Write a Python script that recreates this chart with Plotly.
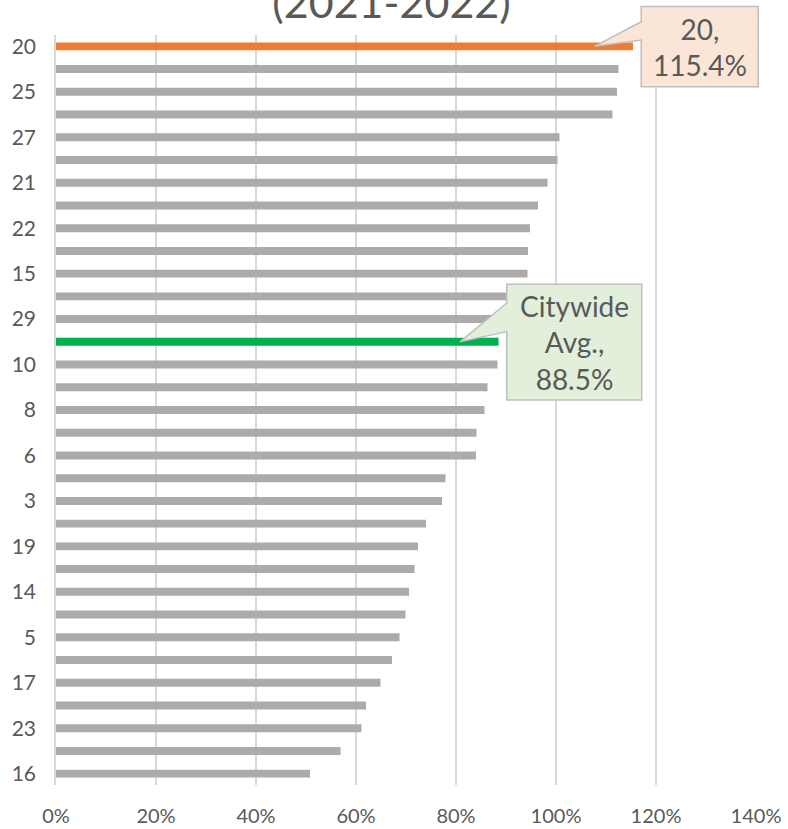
import plotly.graph_objects as go

# ---- data (top to bottom) ----
districts = ["20", "24", "25", "26", "27", "28", "21", "30", "22", "31", "15", "2",
             "29", "Citywide", "10", "11", "8", "13", "6", "1", "3", "18", "19", "32",
             "14", "9", "5", "4", "17", "12", "23", "7", "16"]
utilization = [115.4, 112.5, 112.2, 111.3, 100.7, 100.3, 98.3, 96.4, 94.8, 94.4, 94.3, 92.0,
               90.2, 88.5, 88.3, 86.3, 85.7, 84.1, 84.0, 77.9, 77.2, 74.0, 72.4, 71.7,
               70.6, 69.9, 68.7, 67.2, 64.9, 62.0, 61.1, 56.9, 50.8]
x_ticks = [0, 20, 40, 60, 80, 100, 120, 140]
x_tick_labels = [f"{t}%" for t in x_ticks]
highlight_top = "20"
highlight_avg = "Citywide"

GRAY = "#AEAAAA"
ORANGE = "#ED7D31"
GREEN = "#00B050"
TXT = "#595959"
FONT = "Lato"
W = 400

pos = list(range(len(districts)))
X_RANGE = [0, 140]
Y_RANGE = [len(districts) - 0.5, -0.5]   # reversed: first district on top

colors = []
for d in districts:
    if d == highlight_top:
        colors.append(ORANGE)
    elif d == highlight_avg:
        colors.append(GREEN)
    else:
        colors.append(GRAY)

fig = go.Figure(go.Bar(
    x=utilization, y=pos, orientation="h",
    marker=dict(color=colors, line=dict(width=0)),
    hoverinfo="x+y",
))

# convert data coords to paper coords (so callouts are not clipped by the plot area)
def px_(x):
    return (x - X_RANGE[0]) / (X_RANGE[1] - X_RANGE[0])

def py_(y):
    return (Y_RANGE[0] - y) / (Y_RANGE[0] - Y_RANGE[1])

def callout(idx, v, w, top, bot, wb1, wb2, fill, text):
    x0 = v + 1.65
    x1 = x0 + w
    y0 = idx + top
    y1 = idx + bot
    tipx = v - 7.7
    pts = [(x0, y0), (x1, y0), (x1, y1), (x0, y1), (x0, idx + wb2), (tipx, idx), (x0, idx + wb1)]
    path = "M " + " L ".join(f"{px_(a):.5f},{py_(b):.5f}" for a, b in pts) + " Z"
    fig.add_shape(type="path", path=path, xref="paper", yref="paper",
                  fillcolor=fill, line=dict(color="#BFBFBF", width=1.5), layer="above")
    fig.add_annotation(x=px_((x0 + x1) / 2), y=py_((y0 + y1) / 2), xref="paper", yref="paper",
                       xanchor="center", yanchor="middle",
                       text=text, showarrow=False, align="center",
                       font=dict(family=FONT, size=28, color=TXT, weight=W))

i_top = districts.index(highlight_top)
callout(i_top, utilization[i_top], 23.4, -1.75, 1.78, -1.085, -0.28, "#FBE5D6",
        f"{highlight_top},<br>{utilization[i_top]:.1f}%")
i_avg = districts.index(highlight_avg)
callout(i_avg, utilization[i_avg], 27.0, -2.53, 2.56, -1.71, -0.45, "#E2EFDA",
        f"Citywide<br>Avg.,<br>{utilization[i_avg]:.1f}%")

fig.add_annotation(xref="paper", yref="paper", x=0.479, y=1, xanchor="center",
                   yanchor="bottom", yshift=6,
                   text="School Utilization Rate by District<br>(2021-2022)",
                   showarrow=False, font=dict(family=FONT, size=43, color=TXT, weight=W))

fig.update_layout(
    width=788, height=829,
    margin=dict(l=56, r=32, t=35, b=44),
    paper_bgcolor="white", plot_bgcolor="white",
    bargap=0.65, showlegend=False,
    font=dict(family=FONT, color=TXT, weight=W),
)
fig.update_xaxes(range=X_RANGE, tickvals=x_ticks, ticktext=x_tick_labels,
                 showgrid=True, gridcolor="#D9D9D9", gridwidth=1.5,
                 zeroline=False, showline=False, ticks="", automargin=False,
                 tickfont=dict(family=FONT, size=20, color=TXT, weight=W),
                 ticklabelstandoff=17, fixedrange=True)
fig.update_yaxes(range=Y_RANGE,
                 tickvals=pos[::2], ticktext=districts[::2],
                 showgrid=False, zeroline=False, showline=True,
                 linecolor="#D9D9D9", linewidth=1.5, ticks="", automargin=False,
                 tickfont=dict(family=FONT, size=21, color=TXT, weight=W),
                 ticklabelstandoff=14, fixedrange=True)

fig.write_html("out.html", config={"displayModeBar": False},
               post_script="document.body.style.margin='0px';document.body.style.overflow='hidden';")
